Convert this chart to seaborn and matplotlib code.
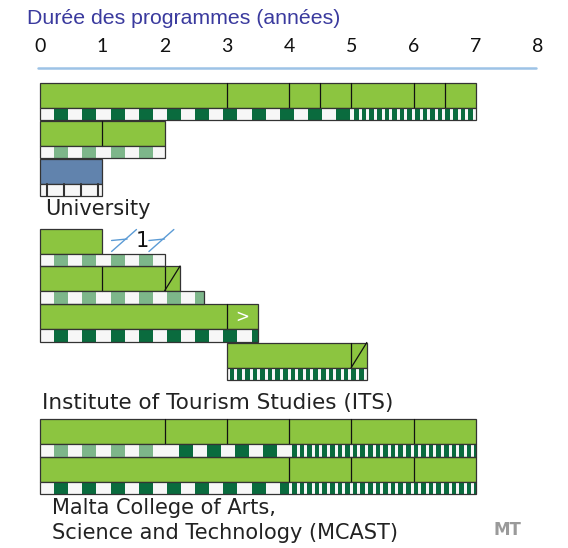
import matplotlib
matplotlib.use("Agg")
import matplotlib.pyplot as plt
from matplotlib.patches import Rectangle
import seaborn as sns

sns.set_theme(style="white")
plt.rcParams["font.family"] = ["DejaVu Sans"]

# ---------------------------------------------------------------- data
title = "Durée des programmes (années)"
year_ticks = [0, 1, 2, 3, 4, 5, 6, 7, 8]

# University: cut points of each programme bar (years) and its band kinds
univ_bounds = [[0, 3, 4, 4.5, 5, 6, 6.5, 7], [0, 1, 2], [0, 1]]
univ_bands = [[(0, 5, "dark"), (5, 7, "fine")], [(0, 2, "pale")], [(0, 1, "grid")]]
univ_fill = ["green", "green", "blue"]
univ_last = [None, None, None]

# Institute of Tourism Studies
its_bounds = [[0, 1], [0, 1, 2, 2.25], [0, 3, 3.5], [3, 5, 5.25]]
its_bands = [[(0, 2, "pale")], [(0, 2.63, "pale")], [(0, 3.5, "dark")], [(3, 5.25, "fine")]]
its_fill = ["green", "green", "green", "green"]
its_last = [None, "diag", ">", "diag"]
its_break = (1, 2)          # years skipped between the first ITS bar and its band
its_break_label = "1"

# MCAST
mcast_bounds = [[0, 2, 3, 4, 5, 6, 7], [0, 4, 5, 6, 7]]
mcast_bands = [[(0, 2, "pale"), (2, 4, "dark"), (4, 7, "fine")],
               [(0, 4, "dark"), (4, 7, "fine")]]
mcast_fill = ["green", "green"]
mcast_last = [None, None]

section_labels = ["University", "Institute of Tourism Studies (ITS)",
                  "Malta College of Arts,\nScience and Technology (MCAST)"]
country = "MT"

# ---------------------------------------------------------------- style
PX = 62.25                      # pixels per year
X0 = 40                         # pixel position of year 0
W, H = 568, 548
BAR_H = 25.0
BAND_H = 12.5

COLORS = {
    "green": "#8cc540",
    "blue": "#6183ad",
    "dark": "#0a6b3e",
    "pale": "#7db68a",
    "white": "#f7f7f7",
    "edge": "#333333",
    "axis": "#9dc3e6",
    "title": "#3a3a9e",
}


def px2yr(p):
    return (p - X0) / PX


fig = plt.figure(figsize=(W / 100, H / 100), dpi=100)
ax = fig.add_axes([0, 0, 1, 1])
ax.set_xlim(px2yr(0), px2yr(W))
ax.set_ylim(H, 0)
ax.axis("off")


def rect(x0, x1, y, h, fc, ec="none", lw=0.0, z=2):
    ax.add_patch(Rectangle((x0, y), x1 - x0, h, facecolor=fc, edgecolor=ec,
                           linewidth=lw, zorder=z))


def draw_band(x0, x1, y, kind):
    rect(x0, x1, y, BAND_H, COLORS["white"], z=2)
    if kind in ("dark", "pale"):
        cell = 14.1 / PX
        i = 0
        while x0 + i * cell < x1 - 1e-9:
            a = x0 + i * cell
            b = min(a + cell, x1)
            if i % 2 == 1:
                rect(a, b, y, BAND_H, COLORS[kind], z=3)
            i += 1
    elif kind == "fine":
        period = 7.6 / PX
        white = 3.0 / PX
        a = x0
        while a < x1 - 1e-9:
            rect(min(a + white, x1), min(a + period, x1), y, BAND_H, COLORS["dark"], z=3)
            a += period
    elif kind == "grid":
        step = 17.0 / PX
        a = x0 + 7.3 / PX
        while a < x1 - 1e-9:
            ax.plot([a, a], [y, y + BAND_H], color=COLORS["edge"], lw=1.5, zorder=4)
            a += step


def draw_row(bounds, bands, fill, last, y):
    x0, x1 = bounds[0], bounds[-1]
    rect(x0, x1, y, BAR_H, COLORS[fill], COLORS["edge"], 0.9, z=2)
    for c in bounds[1:-1]:
        ax.plot([c, c], [y, y + BAR_H], color="#111111", lw=0.9, zorder=4)
    if last == "diag":
        ax.plot([bounds[-2], bounds[-1]], [y + BAR_H, y], color="#111111", lw=0.9, zorder=4)
    elif last == ">":
        ax.text((bounds[-2] + bounds[-1]) / 2, y + BAR_H / 2, ">", color="white",
                ha="center", va="center", fontsize=12, zorder=5)
    by = y + BAR_H
    for (a, b, kind) in bands:
        draw_band(a, b, by, kind)
    rect(min(b[0] for b in bands), max(b[1] for b in bands), by, BAND_H,
         "none", COLORS["edge"], 0.9, z=5)


# title and year scale
ax.text(px2yr(27), 18, title, color=COLORS["title"], fontsize=15.3,
        family=["Liberation Sans"], ha="left", va="center")
for t in year_ticks:
    ax.text(t, 47, str(t), fontsize=14, family=["Lato"], ha="center", va="center",
            color="#111111")
ax.plot([px2yr(38), px2yr(536)], [68, 68], color=COLORS["axis"], lw=1.8)

# sections
univ_y = [82.5, 120.5, 158.5]
its_y = [228.5, 266.0, 304.0, 342.5]
mcast_y = [419.0, 456.5]

for bnd, bds, f, l, y in zip(univ_bounds, univ_bands, univ_fill, univ_last, univ_y):
    draw_row(bnd, bds, f, l, y)
for bnd, bds, f, l, y in zip(its_bounds, its_bands, its_fill, its_last, its_y):
    draw_row(bnd, bds, f, l, y)
for bnd, bds, f, l, y in zip(mcast_bounds, mcast_bands, mcast_fill, mcast_last, mcast_y):
    draw_row(bnd, bds, f, l, y)

# break marker above the first ITS band
g0, g1 = its_break
for cx in (g0 + 0.35, g1 - 0.05):
    ax.plot([cx - 0.2, cx + 0.2], [251.5, 229.5], color="#5b9bd5", lw=1.0, zorder=5)
    ax.plot([cx - 0.2, cx + 0.05], [240.5, 239.0], color="#5b9bd5", lw=1.0, zorder=5)
ax.text((g0 + g1) / 2 + 0.15, 241, its_break_label, fontsize=15, ha="center",
        va="center", color="#111111")

# section captions
ax.text(px2yr(45), 209, section_labels[0], fontsize=15, ha="left", va="center", color="#222222")
ax.text(px2yr(42), 403, section_labels[1], fontsize=15.5, ha="left", va="center", color="#222222")
ax.text(px2yr(52), 508, section_labels[2].split("\n")[0], fontsize=15, ha="left",
        va="center", color="#222222")
ax.text(px2yr(52), 533, section_labels[2].split("\n")[1], fontsize=15, ha="left",
        va="center", color="#222222")
ax.text(px2yr(507), 530, country, fontsize=12, fontweight="bold", ha="center",
        va="center", color="#9a9a9a")

fig.savefig("out.png", dpi=100)
